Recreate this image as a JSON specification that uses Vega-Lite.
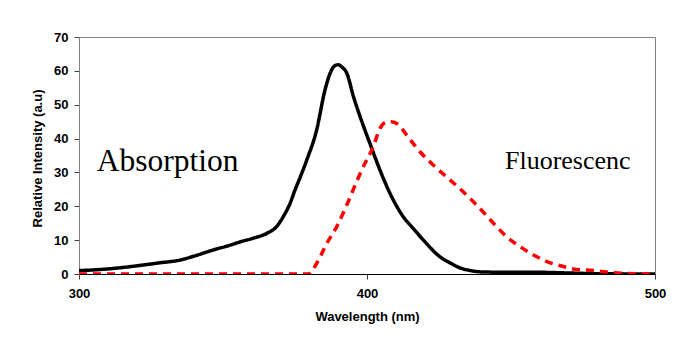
{
  "$schema": "https://vega.github.io/schema/vega-lite/v6.json",
  "width": 576,
  "height": 237,
  "autosize": {"type": "none"},
  "padding": {"left": 79, "top": 37, "right": 20, "bottom": 67},
  "background": "white",
  "config": {
    "view": {"stroke": "#808080", "strokeWidth": 1},
    "axis": {
      "labelFont": "Liberation Sans",
      "labelFontWeight": "bold",
      "labelFontSize": 13,
      "labelColor": "black",
      "labelFlush": false,
      "labelBound": false,
      "titleFont": "Liberation Sans",
      "titleFontWeight": "bold",
      "titleFontSize": 13,
      "titleColor": "black",
      "grid": false,
      "tickSize": 5,
      "tickColor": "#404040"
    }
  },
  "datasets": {
    "spectra": [
      {"series": "Absorption", "wavelength": 300, "intensity": 1.0},
      {"series": "Absorption", "wavelength": 305, "intensity": 1.2},
      {"series": "Absorption", "wavelength": 310, "intensity": 1.5},
      {"series": "Absorption", "wavelength": 318, "intensity": 2.2},
      {"series": "Absorption", "wavelength": 328, "intensity": 3.3},
      {"series": "Absorption", "wavelength": 335, "intensity": 4.1},
      {"series": "Absorption", "wavelength": 340, "intensity": 5.3},
      {"series": "Absorption", "wavelength": 346.6, "intensity": 7.1},
      {"series": "Absorption", "wavelength": 352, "intensity": 8.4},
      {"series": "Absorption", "wavelength": 356, "intensity": 9.5},
      {"series": "Absorption", "wavelength": 361, "intensity": 10.7},
      {"series": "Absorption", "wavelength": 365.2, "intensity": 12.0},
      {"series": "Absorption", "wavelength": 368.6, "intensity": 14.0},
      {"series": "Absorption", "wavelength": 370.9, "intensity": 16.9},
      {"series": "Absorption", "wavelength": 373.3, "intensity": 20.9},
      {"series": "Absorption", "wavelength": 375, "intensity": 24.8},
      {"series": "Absorption", "wavelength": 377, "intensity": 29.0},
      {"series": "Absorption", "wavelength": 379.1, "intensity": 33.7},
      {"series": "Absorption", "wavelength": 382.5, "intensity": 42.5},
      {"series": "Absorption", "wavelength": 385.4, "intensity": 54.3},
      {"series": "Absorption", "wavelength": 387.2, "intensity": 59.3},
      {"series": "Absorption", "wavelength": 388.8, "intensity": 61.5},
      {"series": "Absorption", "wavelength": 390, "intensity": 61.8},
      {"series": "Absorption", "wavelength": 391.2, "intensity": 61.2},
      {"series": "Absorption", "wavelength": 393, "intensity": 59.3},
      {"series": "Absorption", "wavelength": 395.3, "intensity": 52.4},
      {"series": "Absorption", "wavelength": 397.6, "intensity": 46.5},
      {"series": "Absorption", "wavelength": 401, "intensity": 38.6},
      {"series": "Absorption", "wavelength": 404.5, "intensity": 30.7},
      {"series": "Absorption", "wavelength": 408, "intensity": 23.8},
      {"series": "Absorption", "wavelength": 412.6, "intensity": 16.9},
      {"series": "Absorption", "wavelength": 416, "intensity": 13.5},
      {"series": "Absorption", "wavelength": 419.6, "intensity": 10.0},
      {"series": "Absorption", "wavelength": 425.3, "intensity": 5.1},
      {"series": "Absorption", "wavelength": 428.8, "intensity": 3.3},
      {"series": "Absorption", "wavelength": 432, "intensity": 1.9},
      {"series": "Absorption", "wavelength": 436, "intensity": 1.0},
      {"series": "Absorption", "wavelength": 440, "intensity": 0.6},
      {"series": "Absorption", "wavelength": 450, "intensity": 0.5},
      {"series": "Absorption", "wavelength": 460, "intensity": 0.5},
      {"series": "Absorption", "wavelength": 470, "intensity": 0.3},
      {"series": "Absorption", "wavelength": 480, "intensity": 0.1},
      {"series": "Absorption", "wavelength": 500, "intensity": 0.0},
      {"series": "Fluorescence", "wavelength": 300, "intensity": 0},
      {"series": "Fluorescence", "wavelength": 320, "intensity": 0},
      {"series": "Fluorescence", "wavelength": 340, "intensity": 0},
      {"series": "Fluorescence", "wavelength": 360, "intensity": 0},
      {"series": "Fluorescence", "wavelength": 379.6, "intensity": 0},
      {"series": "Fluorescence", "wavelength": 382.5, "intensity": 3.1},
      {"series": "Fluorescence", "wavelength": 386, "intensity": 9.0},
      {"series": "Fluorescence", "wavelength": 389.5, "intensity": 14.0},
      {"series": "Fluorescence", "wavelength": 393.5, "intensity": 21.4},
      {"series": "Fluorescence", "wavelength": 396.4, "intensity": 27.3},
      {"series": "Fluorescence", "wavelength": 399.3, "intensity": 32.7},
      {"series": "Fluorescence", "wavelength": 402.2, "intensity": 37.6},
      {"series": "Fluorescence", "wavelength": 404.5, "intensity": 43.0},
      {"series": "Fluorescence", "wavelength": 406.5, "intensity": 44.8},
      {"series": "Fluorescence", "wavelength": 408.5, "intensity": 45.0},
      {"series": "Fluorescence", "wavelength": 411, "intensity": 44.0},
      {"series": "Fluorescence", "wavelength": 413.8, "intensity": 41.0},
      {"series": "Fluorescence", "wavelength": 418.4, "intensity": 36.1},
      {"series": "Fluorescence", "wavelength": 423.6, "intensity": 31.7},
      {"series": "Fluorescence", "wavelength": 428.8, "intensity": 27.8},
      {"series": "Fluorescence", "wavelength": 434, "intensity": 23.8},
      {"series": "Fluorescence", "wavelength": 438.6, "intensity": 19.9},
      {"series": "Fluorescence", "wavelength": 443.9, "intensity": 15.0},
      {"series": "Fluorescence", "wavelength": 448.5, "intensity": 11.0},
      {"series": "Fluorescence", "wavelength": 452.6, "intensity": 8.4},
      {"series": "Fluorescence", "wavelength": 459, "intensity": 5.1},
      {"series": "Fluorescence", "wavelength": 461.8, "intensity": 3.9},
      {"series": "Fluorescence", "wavelength": 468.2, "intensity": 2.2},
      {"series": "Fluorescence", "wavelength": 471.6, "intensity": 1.5},
      {"series": "Fluorescence", "wavelength": 478.6, "intensity": 1.0},
      {"series": "Fluorescence", "wavelength": 482, "intensity": 0.7},
      {"series": "Fluorescence", "wavelength": 489, "intensity": 0.2},
      {"series": "Fluorescence", "wavelength": 500, "intensity": 0.0}
    ],
    "labels": [
      {"label": "Absorption", "wavelength": 306.2, "intensity": 30.4, "size": 31.5},
      {"label": "Fluorescenc", "wavelength": 447.9, "intensity": 30.9, "size": 26}
    ]
  },
  "layer": [
    {
      "data": {"name": "spectra"},
      "mark": {"type": "line", "interpolate": "monotone", "strokeWidth": 3.5, "clip": true},
      "encoding": {
        "x": {
          "field": "wavelength", "type": "quantitative",
          "scale": {"domain": [300, 500], "nice": false, "zero": false},
          "axis": {"title": "Wavelength (nm)", "values": [300, 400, 500], "labelOverlap": false, "domainColor": "black", "labelPadding": 8, "titlePadding": 10}
        },
        "y": {
          "field": "intensity", "type": "quantitative",
          "scale": {"domain": [0, 70], "nice": false},
          "axis": {"title": "Relative Intensity (a.u)", "values": [0, 10, 20, 30, 40, 50, 60, 70], "tickCount": 8, "labelOverlap": false, "domainColor": "#808080", "labelPadding": 6, "titleX": -42, "titleY": 121, "titleBaseline": "middle"}
        },
        "color": {
          "field": "series", "type": "nominal",
          "scale": {"domain": ["Absorption", "Fluorescence"], "range": ["black", "#FF0000"]},
          "legend": null
        },
        "strokeDash": {
          "field": "series", "type": "nominal",
          "scale": {"domain": ["Absorption", "Fluorescence"], "range": [[1, 0], [8, 6]]},
          "legend": null
        }
      }
    },
    {
      "data": {"name": "labels"},
      "mark": {"type": "text", "align": "left", "baseline": "alphabetic", "font": "Liberation Serif", "color": "black"},
      "encoding": {
        "x": {"field": "wavelength", "type": "quantitative"},
        "y": {"field": "intensity", "type": "quantitative"},
        "text": {"field": "label"},
        "size": {"field": "size", "type": "quantitative", "scale": null}
      }
    }
  ]
}
